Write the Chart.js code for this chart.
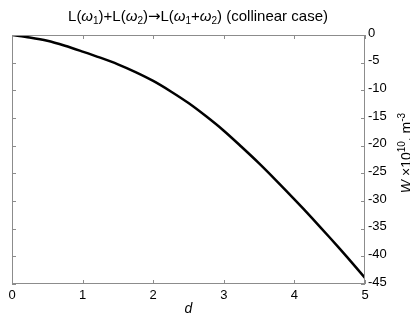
<!DOCTYPE html>
<html>
<head>
<meta charset="utf-8">
<script src="https://cdn.jsdelivr.net/npm/chart.js@4"></script>
<style>
  html, body { margin: 0; padding: 0; background: #fff; }
</style>
</head>
<body>
<canvas id="chart" width="410" height="321"></canvas>
<script>
// distance d and density change W (x1e10 m^-3)
const dValues = [0, 0.25, 0.5, 0.75, 1, 1.25, 1.5, 1.75, 2, 2.25, 2.5,
                 2.75, 3, 3.25, 3.5, 3.75, 4, 4.25, 4.5, 4.75, 5];
const wValues = [0, -0.45, -1.05, -1.95, -3.0, -4.1, -5.3, -6.7, -8.3, -10.2, -12.3,
                 -14.7, -17.3, -20.2, -23.2, -26.4, -29.7, -33.1, -36.6, -40.2, -43.9];
const xTickValues = [0, 1, 2, 3, 4, 5];
const yTickValues = [0, -5, -10, -15, -20, -25, -30, -35, -40, -45];

const FONT = '"Liberation Sans", Arial, sans-serif';
const AXIS_GRAY = '#8c8c8c';

// draws a run of text pieces (font + vertical shift) one after another
function drawRich(ctx, parts, cx, baseline) {
  let total = 0;
  parts.forEach(p => { ctx.font = p.font; total += ctx.measureText(p.t).width; });
  let x = cx - total / 2;
  ctx.textAlign = 'left';
  ctx.textBaseline = 'alphabetic';
  parts.forEach(p => {
    ctx.font = p.font;
    ctx.fillText(p.t, x, baseline + (p.dy || 0));
    x += ctx.measureText(p.t).width;
  });
}

const boxAndLabels = {
  id: 'boxAndLabels',
  afterDraw(chart) {
    const ctx = chart.ctx;
    const { left, right, top, bottom } = chart.chartArea;
    const xs = chart.scales.x, ys = chart.scales.y;
    ctx.save();

    // frame with inward ticks on all four sides
    ctx.strokeStyle = AXIS_GRAY;
    ctx.lineWidth = 1;
    ctx.strokeRect(left + 0.5, top + 0.5, right - left - 1, bottom - top - 1);
    ctx.beginPath();
    xTickValues.forEach(v => {
      const px = Math.round(xs.getPixelForValue(v)) + 0.5;
      ctx.moveTo(px, bottom); ctx.lineTo(px, bottom - 4);
      ctx.moveTo(px, top); ctx.lineTo(px, top + 4);
    });
    yTickValues.forEach(v => {
      const py = Math.round(ys.getPixelForValue(v)) + 0.5;
      ctx.moveTo(left, py); ctx.lineTo(left + 4, py);
      ctx.moveTo(right, py); ctx.lineTo(right - 4, py);
    });
    ctx.stroke();

    ctx.fillStyle = '#000';

    // title
    const tn = '15px ' + FONT, ti = 'italic 15px ' + FONT, ts = '10px ' + FONT;
    const arrow = '15px "DejaVu Sans", sans-serif';
    drawRich(ctx, [
      { t: 'L(', font: tn }, { t: 'ω', font: ti }, { t: '1', font: ts, dy: 3 },
      { t: ')+L(', font: tn }, { t: 'ω', font: ti }, { t: '2', font: ts, dy: 3 },
      { t: ')', font: tn }, { t: '→', font: arrow }, { t: 'L(', font: tn },
      { t: 'ω', font: ti }, { t: '1', font: ts, dy: 3 },
      { t: '+', font: tn }, { t: 'ω', font: ti }, { t: '2', font: ts, dy: 3 },
      { t: ') (collinear case)', font: tn }
    ], 198, 21);

    // x axis title
    drawRich(ctx, [{ t: 'd', font: 'italic 14px ' + FONT }], (left + right) / 2, 313);

    // y axis title, reading upwards
    const n = '14px ' + FONT, it = 'italic 14px ' + FONT, sm = '10px ' + FONT;
    ctx.save();
    ctx.translate(411, 153);
    ctx.rotate(-Math.PI / 2);
    drawRich(ctx, [
      { t: 'W', font: it }, { t: ' ×10', font: n }, { t: '10', font: sm, dy: -6 },
      { t: ', m', font: n }, { t: '-3', font: sm, dy: -6 }
    ], 0, 0);
    ctx.restore();

    ctx.restore();
  }
};

new Chart(document.getElementById('chart'), {
  type: 'line',
  data: {
    datasets: [{
      data: dValues.map((d, i) => ({ x: d, y: wValues[i] })),
      borderColor: '#000',
      borderWidth: 2.5,
      pointRadius: 0,
      tension: 0.3,
      fill: false
    }]
  },
  options: {
    responsive: false,
    animation: false,
    layout: { padding: { left: 12, top: 35, right: 0, bottom: 0 } },
    plugins: { legend: { display: false }, title: { display: false }, tooltip: { enabled: false } },
    scales: {
      x: {
        type: 'linear',
        min: 0, max: 5,
        afterBuildTicks: s => { s.ticks = xTickValues.map(v => ({ value: v })); },
        afterFit: s => { s.height = 37; },
        grid: { display: false, drawTicks: false },
        border: { display: false },
        ticks: { color: '#000', padding: 4, font: { family: FONT, size: 13 }, maxRotation: 0 }
      },
      y: {
        type: 'linear',
        position: 'right',
        min: -45, max: 0,
        afterBuildTicks: s => { s.ticks = yTickValues.map(v => ({ value: v })); },
        afterFit: s => { s.width = 45; },
        grid: { display: false, drawTicks: false },
        border: { display: false },
        ticks: { color: '#000', padding: 3, labelOffset: -2, font: { family: FONT, size: 13 } }
      }
    }
  },
  plugins: [boxAndLabels]
});
</script>
</body>
</html>
